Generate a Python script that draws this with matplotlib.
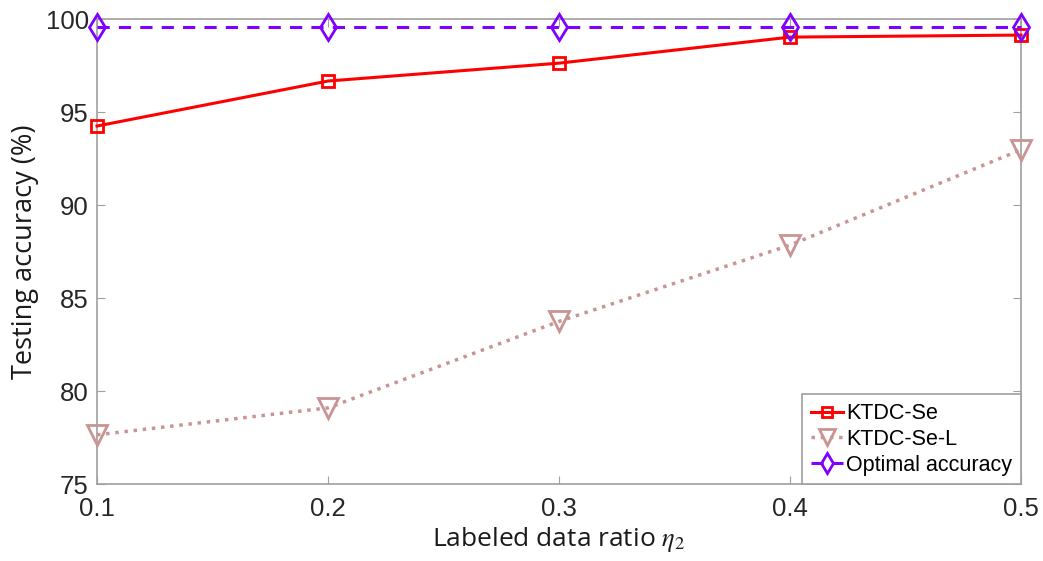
import numpy as np
import matplotlib.pyplot as plt

plt.rcParams['font.family'] = ['Liberation Sans', 'DejaVu Sans']
plt.rcParams['mathtext.fontset'] = 'stix'

ratio = [0.1, 0.2, 0.3, 0.4, 0.5]
ktdc_se = [94.25, 96.67, 97.63, 99.03, 99.14]
ktdc_se_l = [77.65, 79.1, 83.75, 87.85, 92.98]
optimal = [99.6, 99.6, 99.6, 99.6, 99.6]

fig = plt.figure(figsize=(10.43, 5.61), dpi=100)
ax = fig.add_axes([0.093, 0.137, 0.886, 0.829])

ax.plot(ratio, ktdc_se, '-s', color='#ff0000', lw=2.2, ms=9, mfc='none', mew=2,
        label='KTDC-Se', clip_on=False, zorder=4)
ax.plot(ratio, ktdc_se_l, ':v', color='#c89494', lw=2.5, ms=15, mfc='none', mew=2,
        label='KTDC-Se-L', clip_on=False, zorder=3)
ax.plot(ratio, optimal, '--d', color='#8000ff', lw=2.2, ms=13, mfc='none', mew=2,
        dashes=(4, 3), label='Optimal accuracy', clip_on=False, zorder=5)

ax.set_xlim(0.1, 0.5)
ax.set_ylim(75, 100)
ax.set_xticks([0.1, 0.2, 0.3, 0.4, 0.5])
ax.set_yticks([75, 80, 85, 90, 95, 100])
ax.tick_params(direction='in', length=6, color='#a0a0a0', labelsize=18.5,
               top=True, right=True, labelcolor='#262626', pad=6)
ax.tick_params(axis='x', pad=9)
for s in ax.spines.values():
    s.set_color('#a0a0a0')
    s.set_linewidth(1.2)

ax.set_xlabel(r'Labeled data ratio $\eta_2$', fontsize=19, color='#1a1a1a',
              family=['Open Sans', 'DejaVu Sans'], labelpad=3)
ax.set_ylabel('Testing accuracy (%)', fontsize=19.5, color='#1a1a1a',
              family=['Open Sans', 'DejaVu Sans'], labelpad=5)

leg = ax.legend(loc='lower right', fontsize=15.5, handlelength=1.5, handletextpad=0.15,
                borderpad=0.4, labelspacing=0.22, fancybox=False, borderaxespad=0,
                markerscale=0.75)
leg.get_frame().set_edgecolor('#a0a0a0')
leg.get_frame().set_linewidth(1.2)
leg.get_frame().set_alpha(1)

fig.savefig('out.png', dpi=100)
